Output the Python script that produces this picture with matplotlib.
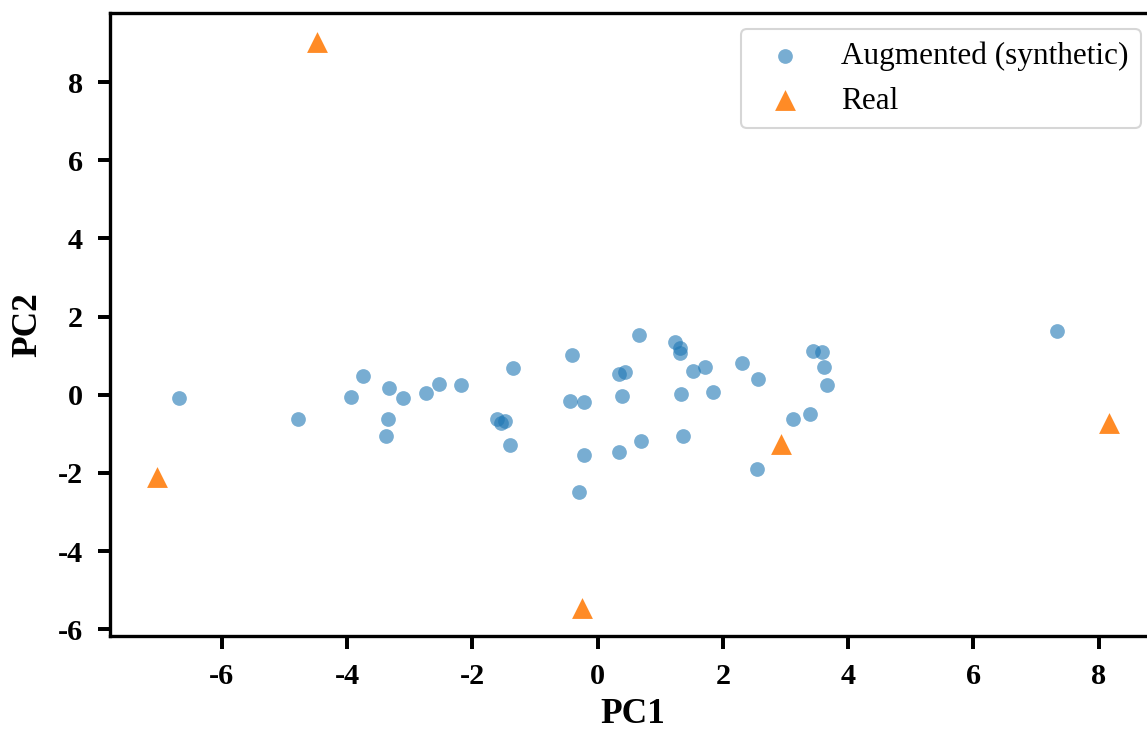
import matplotlib
matplotlib.use('Agg')
import matplotlib.pyplot as plt

matplotlib.rcParams['font.family'] = ['Liberation Serif', 'DejaVu Serif']

### PCA scores
aug_pc1 = [-6.69, -4.78, -3.94, -3.74, -3.33, -3.10, -3.34, -3.38, -2.74, -2.54,
           -2.18, -1.35, -1.61, -1.54, -1.48, -1.40, -0.41, -0.44, -0.22, -0.21,
           -0.30, 0.66, 0.34, 0.44, 0.39, 0.35, 0.69, 1.23, 1.31, 1.31,
           1.53, 1.34, 1.36, 1.72, 1.85, 2.31, 2.57, 2.54, 3.12, 3.39,
           3.44, 3.58, 3.61, 3.66, 7.34]
aug_pc2 = [-0.08, -0.63, -0.06, 0.48, 0.18, -0.09, -0.61, -1.05, 0.04, 0.28,
           0.26, 0.68, -0.61, -0.72, -0.68, -1.28, 1.02, -0.16, -0.19, -1.53,
           -2.49, 1.52, 0.52, 0.57, -0.02, -1.47, -1.18, 1.36, 1.20, 1.07,
           0.62, 0.02, -1.06, 0.71, 0.07, 0.82, 0.41, -1.89, -0.61, -0.49,
           1.13, 1.09, 0.71, 0.24, 1.63]

real_pc1 = [-4.48, -7.03, -0.25, 2.93, 8.17]
real_pc2 = [9.04, -2.10, -5.45, -1.25, -0.72]

ticks = [-6, -4, -2, 0, 2, 4, 6, 8]
tick_labels = ['-6', '-4', '-2', '0', '2', '4', '6', '8']

tick_font = 14.5
label_font = 17
legend_font = 15

### PLOT ###
fig = plt.figure(figsize=(1147/150, 731/150), dpi=150)
ax1 = fig.add_axes([0.0957, 0.130, 0.9128, 0.8518])

ax1.scatter(aug_pc1, aug_pc2, s=50, color='tab:blue', alpha=0.6, linewidths=0,
            label='Augmented (synthetic)')
ax1.scatter(real_pc1, real_pc2, s=100, marker='^', color='tab:orange', alpha=0.9,
            linewidths=0, label='Real')

ax1.set_xticks(ticks)
ax1.set_yticks(ticks)
ax1.set_xticklabels(tick_labels)
ax1.set_yticklabels(tick_labels)

ax1.set_xlabel('PC1', fontsize=label_font, fontweight='bold', labelpad=4)
ax1.set_ylabel('PC2', fontsize=label_font, fontweight='bold', labelpad=6.5)

for spine in ax1.spines.values():
    spine.set_linewidth(1.6)
ax1.tick_params(axis='both', which='major', direction='out', length=6, width=1.9,
                pad=6.8, labelsize=tick_font)
for lab in ax1.get_xticklabels() + ax1.get_yticklabels():
    lab.set_fontweight('bold')

ax1.legend(loc='upper right', fontsize=legend_font)

plt.savefig('out.png', dpi=150)
